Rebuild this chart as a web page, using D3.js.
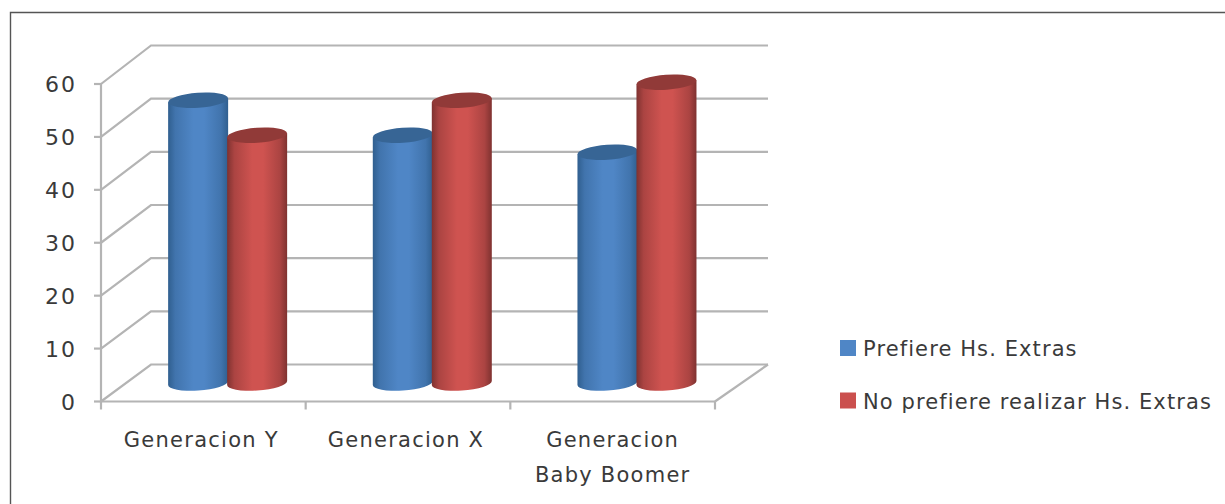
<!DOCTYPE html>
<html>
<head>
<meta charset="utf-8">
<script src="https://cdnjs.cloudflare.com/ajax/libs/d3/7.8.5/d3.min.js"></script>
<style>
html,body{margin:0;padding:0;background:#fff}
svg{display:block}
text{font-family:"DejaVu Sans",sans-serif;fill:#3a3a3a}
</style>
</head>
<body>
<svg id="chart" width="1225" height="504"></svg>
<script>
// Survey results by generation
const categories = [["Generacion Y"], ["Generacion X"], ["Generacion", "Baby Boomer"]];
const seriesNames = ["Prefiere Hs. Extras", "No prefiere realizar Hs. Extras"];
const prefiere = [53.3, 46.7, 43.5];
const noPrefiere = [46.7, 53.3, 56.7];
const yTicks = [0, 10, 20, 30, 40, 50, 60];

const svg = d3.select("#chart");

// Front and back planes of the 3D box
const x0 = d3.scaleBand().domain([0, 1, 2]).range([101, 715]);
const y = d3.scaleLinear().domain([0, 60]).range([401.5, 84]);
const yBack = d3.scaleLinear().domain([0, 60]).range([364.5, 45.5]);
const depthX = 50;
const backRight = 768;
const gridColor = "#b4b4b4";

// Chart frame
svg.append("path")
  .attr("d", "M10.5,504V12.5H1225")
  .attr("fill", "none").attr("stroke", "#555").attr("stroke-width", 1.4);

// Back wall gridlines and side wall diagonals
const grid = svg.append("g").attr("fill", "none").attr("stroke", gridColor).attr("stroke-width", 2.2);
yTicks.forEach(t => {
  grid.append("path").attr("d",
    `M${x0.range()[0]},${y(t)}L${x0.range()[0] + depthX},${yBack(t)}H${backRight}`);
});
// Floor edge on the right side
grid.append("path").attr("d",
  `M${x0.range()[1]},${y(0)}L${backRight},${yBack(0)}`);

// Front axes with ticks
const axes = svg.append("g").attr("fill", "none").attr("stroke", gridColor).attr("stroke-width", 2.2);
axes.append("path").attr("d", `M${x0.range()[0]},${y(60)}V${y(0)}H${x0.range()[1]}`);
yTicks.forEach(t => axes.append("path").attr("d", `M${x0.range()[0] - 7},${y(t)}H${x0.range()[0]}`));
[0, 1, 2, 3].forEach(i => {
  const px = i < 3 ? x0(i) : x0.range()[1];
  axes.append("path").attr("d", `M${px},${y(0)}v8`);
});

// Y tick labels
svg.append("g").selectAll("text").data(yTicks).join("text")
  .attr("x", 77).attr("y", d => y(d) + 8)
  .attr("text-anchor", "end").attr("font-size", 22)
  .attr("letter-spacing", 2).text(d => d);

// Horizontal shading for the cylinder bodies
const defs = svg.append("defs");
function shade(id, edge, mid) {
  const g = defs.append("linearGradient").attr("id", id);
  [[0, edge], [0.12, d3.interpolateRgb(edge, mid)(0.55)], [0.42, mid], [0.6, mid],
   [0.88, d3.interpolateRgb(edge, mid)(0.55)], [1, edge]]
    .forEach(([o, c]) => g.append("stop").attr("offset", o).attr("stop-color", c));
}
shade("body0", "#305f8f", "#4f86c6");
shade("body1", "#7f3230", "#cf5350");
const topColors = ["#376595", "#913a38"];

// Cylinders, drawn series by series so the right one overlaps
const rx = 30, ry = 7.5, tilt = -4;
const seriesValues = [prefiere, noPrefiere];
const centreShift = [-29.5, 29.5];
categories.forEach((c, i) => {
  seriesValues.forEach((vals, s) => {
    const cx = x0(i) + x0.bandwidth() / 2 + depthX / 2 + centreShift[s] - 0.7;
    const baseY = (y(0) + yBack(0)) / 2;
    const topY = (y(vals[i]) + yBack(vals[i])) / 2;
    const g = svg.append("g");
    g.append("path")
      .attr("d", `M${cx - rx},${topY + 2}V${baseY + 2}A${rx},${ry} ${tilt} 0 0 ${cx + rx},${baseY - 2}V${topY - 2}Z`)
      .attr("fill", `url(#body${s})`);
    g.append("ellipse")
      .attr("cx", cx).attr("cy", topY).attr("rx", rx).attr("ry", ry)
      .attr("transform", `rotate(${tilt} ${cx} ${topY})`)
      .attr("fill", topColors[s]);
  });
});

// Category labels
categories.forEach((lines, i) => {
  const t = svg.append("text").attr("text-anchor", "middle").attr("font-size", 21)
    .attr("letter-spacing", 1.25);
  lines.forEach((l, j) => t.append("tspan")
    .attr("x", x0(i) + x0.bandwidth() / 2 - 2 + (i === 2 ? 2 : 0))
    .attr("y", 447 + j * 35).text(l));
});

// Legend
const legendColors = ["#4f86c6", "#cb504e"];
seriesNames.forEach((name, k) => {
  const ly = 348 + k * 52.5;
  svg.append("rect").attr("x", 840).attr("y", ly - 8).attr("width", 16).attr("height", 16)
    .attr("fill", legendColors[k]);
  svg.append("text").attr("x", 863).attr("y", ly + 8).attr("font-size", 21)
    .attr("letter-spacing", 1.1).text(name);
});
</script>
</body>
</html>
